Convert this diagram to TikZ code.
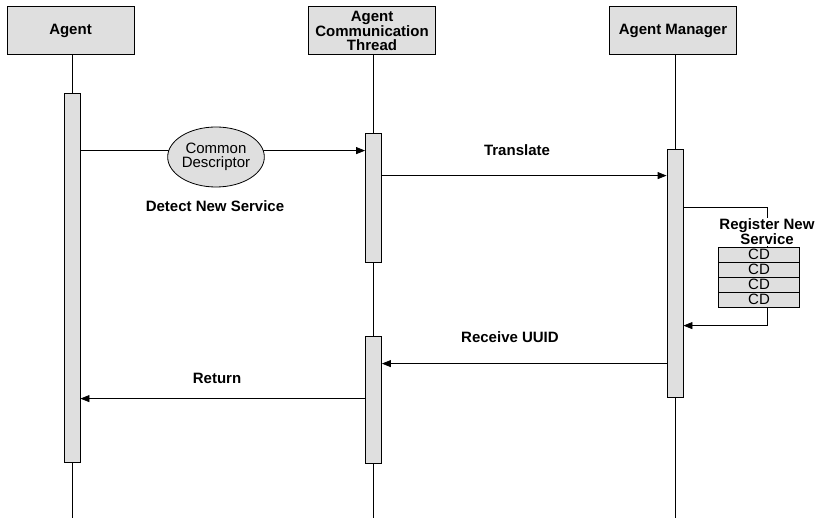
\documentclass[tikz,border=0pt]{standalone}
\usepackage{fontspec}
\setmainfont{Liberation Sans}
\usetikzlibrary{arrows.meta,shapes.geometric}

\tikzset{
  actor/.style={draw, fill=gray!25, minimum width=127pt, minimum height=48pt,
    inner sep=1pt, align=center, font=\bfseries\fontsize{15}{14}\selectfont},
  actbar/.style={draw, fill=gray!25, minimum width=16pt, inner sep=0pt},
  msg/.style={-{Triangle[length=9pt,width=7pt]}},
  lbl/.style={font=\bfseries\fontsize{15}{14}\selectfont, align=center},
  cdrow/.style={draw, fill=gray!25, minimum width=81pt, minimum height=15pt,
    inner sep=0pt, font=\fontsize{15}{14}\selectfont}
}

\begin{document}
\begin{tikzpicture}[x=1pt,y=-1pt,line width=0.8pt]
\useasboundingbox (0,0) rectangle (819,518);
% lifeline heads
\node[actor] (agent) at (70.5,30.5) {Agent};
\node[actor] (act) at (372,30.5) {Agent\\Communication\\Thread};
\node[actor] (am) at (673,30.5) {Agent Manager};
% activation bars
\node[actbar, minimum height=369pt] (agentbar) at (72,277.5) {};
\node[actbar, minimum height=129pt] (actbara) at (373.5,197.5) {};
\node[actbar, minimum height=127pt] (actbarb) at (373.5,399.5) {};
\node[actbar, minimum height=248pt] (ambar) at (675,273) {};
\coordinate (agentend) at (72,518);
\coordinate (actend) at (373.5,518);
\coordinate (amend) at (675,518);
% lifelines
\draw (agent.south -| agentbar.north) -- (agentbar.north);
\draw (agentbar.south) -- (agentend);
\draw (act.south -| actbara.north) -- (actbara.north);
\draw (actbara.south) -- (actbarb.north);
\draw (actbarb.south) -- (actend);
\draw (am.south -| ambar.north) -- (ambar.north);
\draw (ambar.south) -- (amend);
% messages
\draw[msg] ([yshift=-58pt]agentbar.north east) coordinate (detect) -- (detect -| actbara.west);
\node[draw, fill=gray!25, ellipse, minimum width=70pt, minimum height=60pt, inner sep=0pt,
  align=center, font=\fontsize{15}{14}\selectfont] (cd) at (216,157) {Common\\Descriptor};
\node[lbl] (detectlbl) at (215,206) {Detect New Service};
\draw[msg] ([yshift=-43pt]actbara.north east) coordinate (translate) -- (translate -| ambar.west);
\node[lbl] (translatelbl) at (517,150) {Translate};
\draw[msg] ([yshift=-59pt]ambar.north east) -- ++(84,0) |- ([yshift=-177pt]ambar.north east);
\node[lbl, fill=white, inner sep=1pt] (registerlbl) at (767,232) {Register New\\Service};
\foreach \i in {0,...,3}
  \node[cdrow] (cdrow\i) at (759,254.5+15*\i) {CD};
\draw[msg] ([yshift=-215pt]ambar.north west) coordinate (receive) -- (receive -| actbarb.east);
\node[lbl] (receivelbl) at (510,337) {Receive UUID};
\draw[msg] ([yshift=-63pt]actbarb.north west) coordinate (return) -- (return -| agentbar.east);
\node[lbl] (returnlbl) at (217,378) {Return};
\end{tikzpicture}
\end{document}
